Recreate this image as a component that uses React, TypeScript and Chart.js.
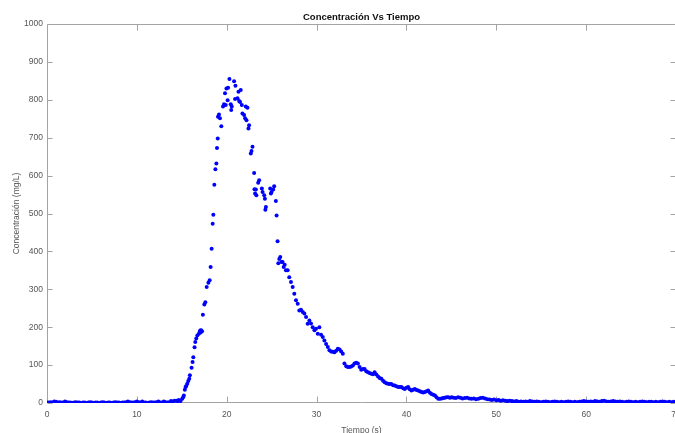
import React, { useEffect, useRef } from 'react';
import { Chart, registerables } from 'chart.js';

Chart.register(...registerables);

const FONT = '"Liberation Sans", Arial, Helvetica, sans-serif';

const xTicks = [0, 10, 20, 30, 40, 50, 60, 70];
const yTicks = [0, 100, 200, 300, 400, 500, 600, 700, 800, 900, 1000];

const tiempoBase = [
  0, 0.2, 0.4, 0.6, 0.8, 1, 1.2, 1.4, 1.6, 1.8,
  2, 2.2, 2.4, 2.6, 2.8, 3, 3.2, 3.4, 3.6, 3.8,
  4, 4.2, 4.4, 4.6, 4.8, 5, 5.2, 5.4, 5.6, 5.8,
  6, 6.2, 6.4, 6.6, 6.8, 7, 7.2, 7.4, 7.6, 7.8,
  8, 8.2, 8.4, 8.6, 8.8, 9, 9.2, 9.4, 9.6, 9.8,
  10, 10.2, 10.4, 10.6, 10.8, 11, 11.2, 11.4, 11.6, 11.8,
  12, 12.2, 12.4, 12.6, 12.8, 13, 13.2, 13.4, 13.6, 13.8,
  14, 14.2,
];
const concBase = [
  1, 1, 2, 1, 4, 3, 1, 2, 1, 1,
  4, 2, 1, 1, 0, 1, 2, 1, 1, 0,
  1, 1, 0, 1, 2, 1, 0, 1, 1, 0,
  1, 2, 1, 0, 1, 1, 0, 1, 2, 1,
  1, 0, 1, 1, 2, 4, 2, 1, 1, 2,
  4, 2, 1, 4, 1, 1, 0, 1, 2, 1,
  1, 2, 4, 1, 1, 4, 2, 1, 2, 5,
  4, 6,
];

const tiempoPico = [
  14.4, 14.55, 14.67, 14.86, 15.05, 15.15, 15.23, 15.34, 15.42, 15.5,
  15.61, 15.72, 15.83, 15.9, 16.09, 16.2, 16.28, 16.42, 16.5, 16.61,
  16.73, 16.9, 17.0, 17.05, 17.1, 17.15, 17.25, 17.35, 17.51, 17.62,
  17.77, 17.96, 18.1, 18.21, 18.32, 18.44, 18.51, 18.62, 18.74, 18.85,
  18.92, 19.0, 19.03, 19.14, 19.25, 19.4, 19.59, 19.7, 19.81, 19.89,
  19.97, 20.1, 20.15, 20.3, 20.45, 20.5, 20.56, 20.82, 20.93, 20.97,
  21.2, 21.31, 21.38, 21.49, 21.56, 21.68, 21.75, 21.93, 22.05, 22.12,
  22.2, 22.31, 22.42, 22.49, 22.68, 22.76, 22.87, 23.05, 23.09, 23.16,
  23.24, 23.3, 23.5, 23.61, 23.91, 23.99, 24.17, 24.25, 24.3, 24.36,
  24.84, 24.92, 24.99, 25.17, 25.28, 25.47, 25.55, 25.66, 25.74, 25.85,
  25.96, 26.1, 26.22, 26.34, 26.45, 26.59, 26.78, 26.96, 27.15, 27.34,
  27.52, 27.71, 27.9, 28.08, 28.27, 28.46, 28.64, 28.83, 29.01, 29.2,
  29.38, 29.57, 29.76, 29.94, 30.13, 30.31, 30.5, 30.69, 30.87, 31.06,
  31.25, 31.43, 31.62, 31.8, 31.99, 32.18, 32.37, 32.56, 32.74, 32.92,
  33.1, 33.3, 33.48, 33.67, 33.85, 34.04, 34.22, 34.41, 34.6, 34.79,
  34.97, 35.16, 35.34, 35.53, 35.72, 35.9, 36.09, 36.28, 36.46, 36.65,
  36.84, 37.02, 37.21, 37.4, 37.58, 37.77, 37.95, 38.14, 38.32, 38.51,
  38.69, 38.88, 39.07, 39.25, 39.44, 39.63, 39.81, 40.0, 40.19, 40.37,
  40.56, 40.75, 40.93, 41.12, 41.31, 41.49, 41.68, 41.87, 42.05, 42.24,
  42.42, 42.61, 42.79, 42.98, 43.17, 43.35, 43.54, 43.73, 43.91, 44.1,
  44.28, 44.47, 44.66, 44.85, 45.03,
];
const concPico = [
  6, 5, 8, 5, 11, 15, 20, 35, 42, 45,
  51, 58, 64, 73, 93, 108, 121, 147, 161, 170,
  178, 183, 188, 191, 186, 192, 189, 233, 260, 266,
  306, 317, 324, 359, 407, 473, 497, 576, 617, 632,
  673, 698, 755, 761, 751, 730, 782, 788, 817, 786,
  830, 799, 832, 855, 788, 773, 782, 849, 802, 837,
  804, 821, 797, 794, 826, 786, 764, 760, 751, 782,
  746, 779, 724, 733, 658, 665, 676, 607, 564, 553,
  563, 548, 581, 588, 566, 557, 548, 539, 510, 517,
  566, 553, 557, 563, 572, 533, 495, 427, 369, 380,
  385, 372, 372, 359, 365, 350, 350, 332, 319, 306,
  288, 271, 262, 244, 246, 240, 236, 227, 209, 218,
  210, 200, 192, 196, 183, 200, 180, 174, 165, 156,
  148, 139, 136, 135, 134, 138, 143, 141, 136, 130,
  104, 97, 95, 95, 96, 99, 104, 106, 104, 95,
  88, 90, 90, 84, 81, 79, 77, 76, 81, 75,
  70, 66, 64, 59, 55, 52, 51, 50, 50, 47,
  46, 44, 42, 42, 42, 39, 37, 40, 42, 36,
  33, 35, 37, 34, 33, 31, 29, 28, 29, 31,
  33, 27, 24, 22, 20, 15, 11, 11, 12, 13,
  14, 15, 15, 14, 15,
];

const tiempoCola = [
  45.25, 45.5, 45.75, 46, 46.25, 46.5, 46.75, 47,
  47.25, 47.5, 47.75, 48, 48.25, 48.5, 48.75, 49,
  49.25, 49.5, 49.75, 50, 50.25, 50.5, 50.75, 51,
  51.25, 51.5, 51.75, 52, 52.25, 52.5, 52.75, 53,
  53.25, 53.5, 53.75, 54, 54.25, 54.5, 54.75, 55,
  55.25, 55.5, 55.75, 56, 56.25, 56.5, 56.75, 57,
  57.25, 57.5, 57.75, 58, 58.25, 58.5, 58.75, 59,
  59.25, 59.5, 59.75, 60, 60.25, 60.5, 60.75, 61,
  61.25, 61.5, 61.75, 62, 62.25, 62.5, 62.75, 63,
  63.25, 63.5, 63.75, 64, 64.25, 64.5, 64.75, 65,
  65.25, 65.5, 65.75, 66, 66.25, 66.5, 66.75, 67,
  67.25, 67.5, 67.75, 68, 68.25, 68.5, 68.75, 69,
  69.25, 69.5, 69.75, 70,
];
const concCola = [
  14, 13, 15, 14, 12, 13, 14, 12,
  11, 12, 10, 11, 13, 14, 12, 10,
  9, 8, 9, 7, 8, 6, 7, 6,
  5, 6, 5, 4, 5, 3, 4, 3,
  4, 3, 5, 4, 3, 4, 3, 2,
  3, 4, 3, 2, 3, 4, 3, 2,
  3, 2, 3, 4, 3, 2, 3, 2,
  3, 4, 5, 4, 3, 4, 3, 5,
  4, 3, 5, 6, 4, 3, 4, 5,
  4, 3, 4, 3, 2, 3, 4, 3,
  2, 3, 2, 3, 4, 3, 2, 3,
  3, 2, 3, 2, 3, 4, 3, 2,
  3, 2, 3, 2,
];

const boxPlugin = {
  id: 'matlabBox',
  beforeDatasetsDraw(chart: any) {
    const { ctx, chartArea: a, scales } = chart;
    const l = Math.round(a.left) + 0.5;
    const r = Math.round(a.right) - 0.5;
    const t = Math.round(a.top) + 0.5;
    const b = Math.round(a.bottom) - 0.5;
    ctx.save();
    ctx.strokeStyle = '#a3a3a3';
    ctx.lineWidth = 1;
    ctx.beginPath();
    ctx.rect(l, t, r - l, b - t);
    for (const tk of scales.x.ticks) {
      const px = Math.round(scales.x.getPixelForValue(tk.value)) + 0.5;
      ctx.moveTo(px, b);
      ctx.lineTo(px, b - 6);
      ctx.moveTo(px, t);
      ctx.lineTo(px, t + 6);
    }
    for (const tk of scales.y.ticks) {
      const py = Math.round(scales.y.getPixelForValue(tk.value)) + 0.5;
      ctx.moveTo(l, py);
      ctx.lineTo(l + 5, py);
      ctx.moveTo(r, py);
      ctx.lineTo(r - 5, py);
    }
    ctx.stroke();
    ctx.restore();
  },
};

export default function App() {
  const ref = useRef<HTMLCanvasElement>(null);

  useEffect(() => {
    if (!ref.current) return;
    const tiempo = [...tiempoBase, ...tiempoPico, ...tiempoCola];
    const conc = [...concBase, ...concPico, ...concCola];
    const puntos = tiempo.map((t, i) => ({ x: t, y: conc[i] }));

    const chart = new Chart(ref.current, {
      type: 'scatter',
      data: {
        datasets: [
          {
            data: puntos,
            backgroundColor: '#0000ff',
            borderColor: '#0000ff',
            pointRadius: 2,
            pointBorderWidth: 0,
            pointHoverRadius: 2,
          },
        ],
      },
      options: {
        animation: false,
        responsive: false,
        devicePixelRatio: 1,
        events: [],
        layout: { padding: { left: 0, right: 14, top: 0, bottom: 0 } },
        plugins: {
          legend: { display: false },
          tooltip: { enabled: false },
          title: {
            display: true,
            text: 'Concentración Vs Tiempo',
            fullSize: false,
            color: '#111111',
            font: { family: FONT, size: 9.5, weight: 'bold' },
            padding: { top: 12, bottom: 0.6 },
          },
        },
        scales: {
          x: {
            type: 'linear',
            min: 0,
            max: 70,
            afterBuildTicks: (s: any) => {
              s.ticks = xTicks.map((v) => ({ value: v }));
            },
            afterFit: (s: any) => {
              s.height = 42;
            },
            ticks: {
              color: '#555555',
              font: { family: FONT, size: 8.5 },
              padding: 7,
              maxRotation: 0,
              autoSkip: false,
              callback: (v: any) => String(v),
            },
            grid: { display: false, drawTicks: false },
            border: { display: false },
            title: {
              display: true,
              text: 'Tiempo (s)',
              color: '#555555',
              font: { family: FONT, size: 8.5 },
              padding: { top: 0, bottom: 9 },
            },
          },
          y: {
            type: 'linear',
            min: 0,
            max: 1000,
            afterBuildTicks: (s: any) => {
              s.ticks = yTicks.map((v) => ({ value: v }));
            },
            afterFit: (s: any) => {
              s.width = 47;
            },
            ticks: {
              color: '#555555',
              font: { family: FONT, size: 8.5 },
              padding: 4,
              autoSkip: false,
              callback: (v: any) => String(v),
            },
            grid: { display: false, drawTicks: false },
            border: { display: false },
            title: {
              display: true,
              text: 'Concentración (mg/L)',
              color: '#555555',
              font: { family: FONT, size: 8.5 },
              padding: { top: 11.5, bottom: 0 },
            },
          },
        },
      },
      plugins: [boxPlugin],
    } as any);

    return () => chart.destroy();
  }, []);

  return (
    <div
      style={{
        position: 'fixed',
        left: 0,
        top: 0,
        width: 675,
        height: 433,
        overflow: 'hidden',
        background: '#ffffff',
      }}
    >
      <canvas ref={ref} width={690} height={445} style={{ display: 'block' }} />
    </div>
  );
}
